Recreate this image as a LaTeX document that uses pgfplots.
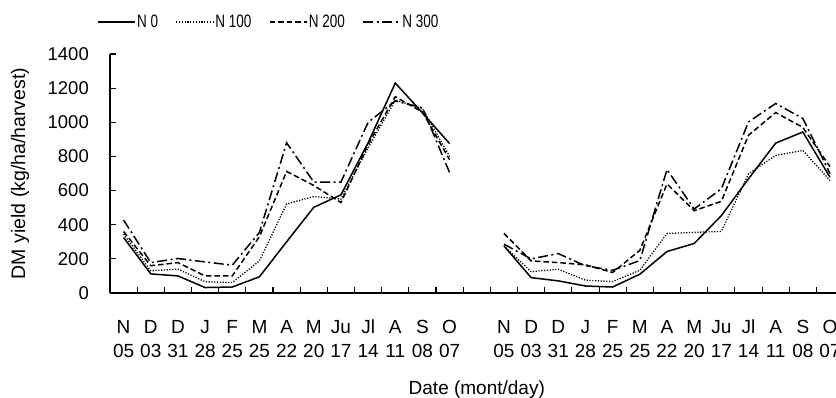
\documentclass[border=0pt]{standalone}
\usepackage{fontspec}
\setmainfont{Liberation Sans}
\usepackage{graphicx}
\usepackage{pgfplots}
\pgfplotsset{compat=1.18}
\newcommand{\tl}[2]{\strut #1\\\strut #2}
\newcommand{\legtxt}[1]{\scalebox{0.75}[1]{#1}}
\begin{document}
\begin{tikzpicture}[font=\fontsize{19bp}{24bp}\selectfont]
\path[use as bounding box] (-110bp,-105bp) rectangle (726bp,293bp);
\begin{axis}[
  scale only axis, width=733.6bp, height=239bp,
  xmin=-0.5, xmax=26.5, ymin=0, ymax=1400,
  axis x line*=bottom, axis y line*=left,
  axis line style={line width=1.1bp},
  tick align=inside,
  major tick length=0pt, minor tick length=6bp,
  tick style={black, line width=1.1bp},
  xtick={0,1,2,3,4,5,6,7,8,9,10,11,12,14,15,16,17,18,19,20,21,22,23,24,25,26},
  xticklabels={{\tl{N}{05}},{\tl{D}{03}},{\tl{D}{31}},{\tl{J}{28}},{\tl{F}{25}},{\tl{M}{25}},{\tl{A}{22}},{\tl{M}{20}},{\tl{Ju}{17}},{\tl{Jl}{14}},{\tl{A}{11}},{\tl{S}{08}},{\tl{O}{07}},
               {\tl{N}{05}},{\tl{D}{03}},{\tl{D}{31}},{\tl{J}{28}},{\tl{F}{25}},{\tl{M}{25}},{\tl{A}{22}},{\tl{M}{20}},{\tl{Ju}{17}},{\tl{Jl}{14}},{\tl{A}{11}},{\tl{S}{08}},{\tl{O}{07}}},
  minor xtick={-0.5,0.5,...,26.5},
  ytick={0,200,...,1400},
  minor ytick={0,200,...,1400},
  x tick label style={align=center, anchor=north, inner sep=0pt, yshift=-23bp, font=\fontsize{19bp}{24bp}\selectfont},
  y tick label style={anchor=east, inner sep=0pt, xshift=-21bp, font=\fontsize{18.5bp}{22bp}\selectfont},
  /pgf/number format/assume math mode=true,
  /pgf/number format/1000 sep={},
  every axis y label/.style={at={(axis description cs:-0.1227,0.5)}, rotate=90, anchor=center, font=\fontsize{19.5bp}{23bp}\selectfont},
  ylabel={DM yield (kg/ha/harvest)},
  every axis x label/.style={at={(axis description cs:0.5,0)}, anchor=center, yshift=-97bp, font=\fontsize{19bp}{23bp}\selectfont},
  xlabel={Date (mont/day)},
  legend columns=4,
  legend style={draw=none, fill=none, at={(axis description cs:-0.0177,1.134)}, anchor=west,
    inner sep=0pt, outer sep=0pt, font=\fontsize{18bp}{22bp}\selectfont,
    /tikz/every even column/.append style={column sep=16bp},
    nodes={inner sep=1.5bp}},
  legend image code/.code={\draw[#1] (0bp,0bp) -- (37bp,0bp);},
  every axis plot/.append style={black, line width=1.5bp, line join=miter},
]
\addplot[solid] coordinates {
(0,325)(1,112)(2,100)(3,32)(4,35)(5,95)(6,300)(7,502)(8,575)(9,880)(10,1230)(11,1055)(12,875)};
\addlegendentry{\legtxt{N 0}}
\addplot[line width=1.3bp, dash pattern=on 1.2bp off 1.6bp] coordinates {
(0,345)(1,130)(2,140)(3,66)(4,61)(5,188)(6,522)(7,565)(8,550)(9,850)(10,1130)(11,1080)(12,800)};
\addlegendentry{\legtxt{N 100}}
\addplot[dash pattern=on 5.5bp off 3bp] coordinates {
(0,360)(1,160)(2,178)(3,100)(4,100)(5,330)(6,712)(7,630)(8,530)(9,870)(10,1150)(11,1060)(12,780)};
\addlegendentry{\legtxt{N 200}}
\addplot[dash pattern=on 10bp off 3.5bp on 2bp off 3.5bp] coordinates {
(0,427)(1,178)(2,202)(3,182)(4,163)(5,355)(6,880)(7,650)(8,650)(9,1000)(10,1125)(11,1085)(12,705)};
\addlegendentry{\legtxt{N 300}}
\addplot[solid, forget plot] coordinates {
(14,276)(15,90)(16,71)(17,41)(18,35)(19,110)(20,243)(21,290)(22,453)(23,669)(24,878)(25,943)(26,678)};
\addplot[line width=1.3bp, dash pattern=on 1.2bp off 1.6bp, forget plot] coordinates {
(14,276)(15,125)(16,139)(17,75)(18,67)(19,133)(20,349)(21,355)(22,361)(23,698)(24,806)(25,835)(26,659)};
\addplot[dash pattern=on 5.5bp off 3bp, forget plot] coordinates {
(14,349)(15,188)(16,178)(17,165)(18,120)(19,250)(20,639)(21,482)(22,537)(23,924)(24,1057)(25,970)(26,740)};
\addplot[dash pattern=on 10bp off 3.5bp on 2bp off 3.5bp, forget plot] coordinates {
(14,286)(15,200)(16,231)(17,159)(18,133)(19,190)(20,723)(21,492)(22,610)(23,1002)(24,1110)(25,1022)(26,700)};
\end{axis}
\end{tikzpicture}
\end{document}
